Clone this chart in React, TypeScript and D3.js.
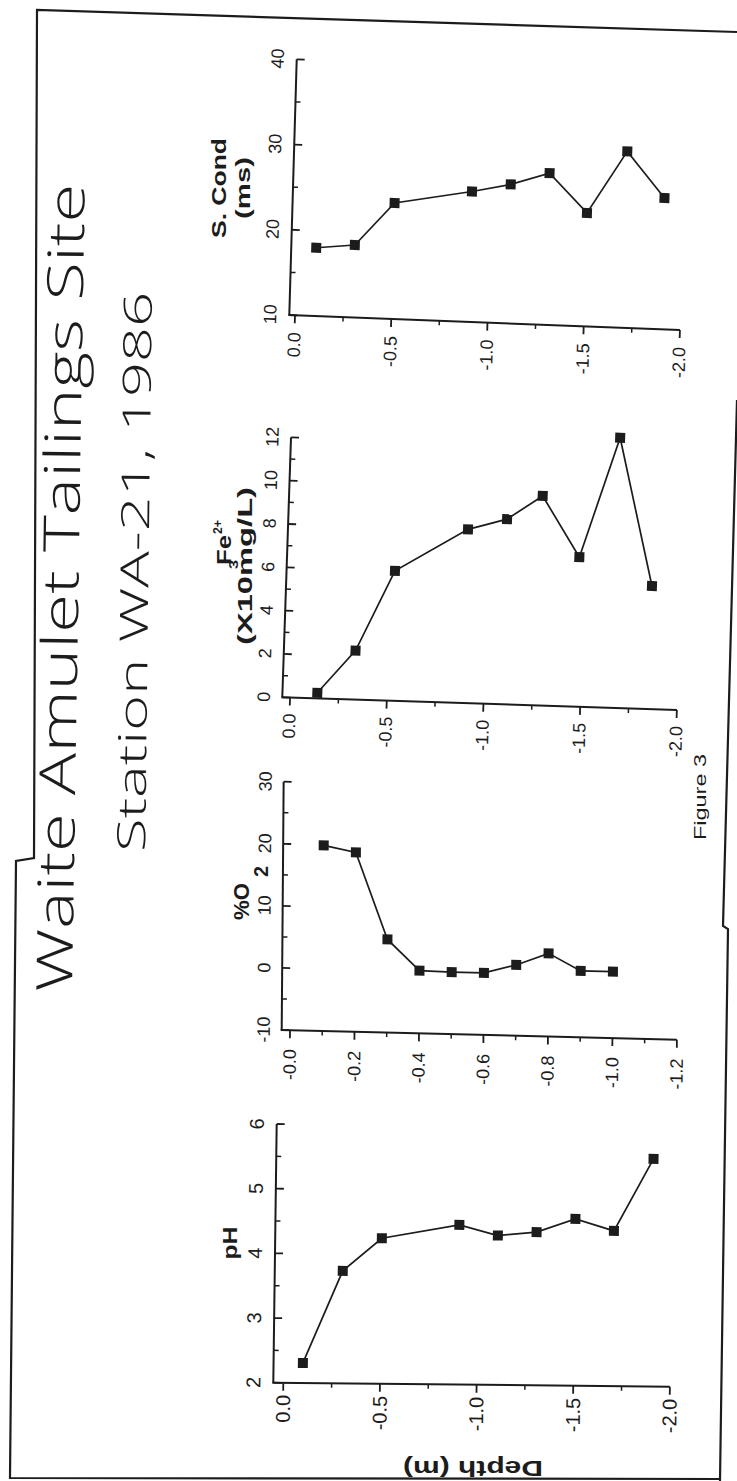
import React from "react";
import * as d3 from "d3";

// ---------- data ----------
const scDepth = [-0.1, -0.3, -0.5, -0.9, -1.1, -1.3, -1.5, -1.7, -1.9];
const scValue = [18.0, 18.5, 23.6, 25.3, 26.3, 27.8, 23.3, 30.7, 25.4];
const scTicks = [10, 20, 30, 40];

const feDepth = [-0.14, -0.33, -0.52, -0.89, -1.09, -1.27, -1.47, -1.66, -1.85];
const feValue = [0.26, 2.26, 6.0, 8.02, 8.55, 9.67, 6.9, 12.47, 5.68];
const feTicks = [0, 2, 4, 6, 8, 10, 12];

const o2Depth = [-0.1, -0.2, -0.3, -0.4, -0.5, -0.6, -0.7, -0.8, -0.9, -1.0];
const o2Value = [19.9, 18.9, 5.0, 0.1, 0.0, 0.0, 1.4, 3.4, 0.7, 0.7];
const o2Ticks = [-10, 0, 10, 20, 30];

const phDepth = [-0.1, -0.3, -0.5, -0.9, -1.1, -1.3, -1.5, -1.7, -1.9];
const phValue = [2.31, 3.74, 4.25, 4.47, 4.31, 4.37, 4.58, 4.4, 5.52];
const phTicks = [2, 3, 4, 5, 6];

const depthTicks = [0, -0.5, -1.0, -1.5, -2.0];
const depthTickLabels = ["0.0", "-0.5", "-1.0", "-1.5", "-2.0"];
const o2DepthTicks = [0, -0.2, -0.4, -0.6, -0.8, -1.0, -1.2];
const o2DepthTickLabels = ["-0.0", "-0.2", "-0.4", "-0.6", "-0.8", "-1.0", "-1.2"];

// ---------- layout (scan geometry of each panel) ----------
const layout = {
  sc: { cx: 289.3, cy: 315, alpha: 2.2, beta: 1.66, u0: 5.7, uLen: 385.2, vLen: 255.8, gap: 17, vOff: -19, fs: 18 },
  fe: { cx: 282.3, cy: 697.3, alpha: 1.84, beta: 1.92, u0: 7.76, uLen: 387, vLen: 260.1, gap: 16, vOff: -18.5, fs: 18 },
  o2: { cx: 281.7, cy: 1030, alpha: 1.4, beta: 0.45, u0: 8.3, uLen: 387, vLen: 248.3, gap: 19, vOff: -18, fs: 18 },
  ph: { cx: 273.3, cy: 1382.7, alpha: 0.58, beta: 0.75, u0: 10, uLen: 386.6, vLen: 258.7, gap: 12, vOff: -20, fs: 20 },
};

const INK = "#1c1c1c";
const TICK_FONT = "'Liberation Sans', Arial, sans-serif";
const LABEL_FONT = "'Liberation Sans', Arial, sans-serif";

type L = typeof layout.sc;

function Panel(props: {
  depth: number[];
  value: number[];
  vTicks: number[];
  dTicks: number[];
  dLabels: string[];
  L: L;
}) {
  const { depth, value, vTicks, dTicks, dLabels, L } = props;
  const a = (L.alpha * Math.PI) / 180;
  const b = (L.beta * Math.PI) / 180;
  const m = `matrix(${Math.cos(a)},${Math.sin(a)},${-Math.sin(b)},${Math.cos(b)},${L.cx},${L.cy})`;
  const dDomain = [dTicks[0], dTicks[dTicks.length - 1]];
  const x = d3.scaleLinear().domain(dDomain).range([L.u0, L.u0 + L.uLen]);
  const y = d3.scaleLinear().domain([vTicks[0], vTicks[vTicks.length - 1]]).range([0, -L.vLen]);
  const vMinor = vTicks.slice(1).map((t, i) => (t + vTicks[i]) / 2);
  const dMinor = dTicks.slice(1).map((t, i) => (t + dTicks[i]) / 2);
  const pts: [number, number][] = depth.map((d, i) => [d, value[i]]);
  const line = d3
    .line<[number, number]>()
    .x((d) => x(d[0]))
    .y((d) => y(d[1]));
  const xEnd = x(dDomain[1]);
  return (
    <g transform={m}>
      <line x1={0} y1={0} x2={0} y2={-L.vLen} stroke={INK} strokeWidth={2} />
      <line x1={-1} y1={0} x2={xEnd} y2={0} stroke={INK} strokeWidth={2} />
      {vTicks.map((t) => (
        <line key={"vt" + t} x1={0} x2={8} y1={y(t)} y2={y(t)} stroke={INK} strokeWidth={1.8} />
      ))}
      {vMinor.map((t) => (
        <line key={"vm" + t} x1={0} x2={5} y1={y(t)} y2={y(t)} stroke={INK} strokeWidth={1.5} />
      ))}
      {dTicks.map((t) => (
        <line key={"dt" + t} x1={x(t)} x2={x(t)} y1={0} y2={8} stroke={INK} strokeWidth={1.8} />
      ))}
      {dMinor.map((t) => (
        <line key={"dm" + t} x1={x(t)} x2={x(t)} y1={0} y2={4.5} stroke={INK} strokeWidth={1.5} />
      ))}
      {vTicks.map((t) => (
        <text
          key={"vl" + t}
          x={L.vOff}
          y={y(t)}
          transform={`rotate(-90,${L.vOff},${y(t)})`}
          textAnchor="middle"
          dominantBaseline="central"
          fontFamily={TICK_FONT}
          fontSize={L.fs}
          fill={INK}
        >
          {String(t)}
        </text>
      ))}
      {dTicks.map((t, i) => (
        <text
          key={"dl" + t}
          x={x(t)}
          y={L.gap}
          transform={`rotate(-90,${x(t)},${L.gap})`}
          textAnchor="end"
          dominantBaseline="central"
          fontFamily={TICK_FONT}
          fontSize={L.fs}
          fill={INK}
        >
          {dLabels[i]}
        </text>
      ))}
      <path d={line(pts) || ""} fill="none" stroke={INK} strokeWidth={1.7} />
      {pts.map((p, i) => (
        <rect key={"p" + i} x={x(p[0]) - 5} y={y(p[1]) - 5} width={10} height={10} fill={INK} />
      ))}
    </g>
  );
}

function RotText(props: {
  x: number;
  y: number;
  angle?: number;
  size: number;
  anchor?: string;
  weight?: string | number;
  family?: string;
  len?: number;
  children: React.ReactNode;
}) {
  const { x, y, angle = -90, size, anchor = "middle", weight = "bold", family = LABEL_FONT, len } = props;
  return (
    <text
      x={x}
      y={y}
      transform={`rotate(${angle},${x},${y})`}
      textAnchor={anchor}
      fontFamily={family}
      fontWeight={weight}
      fontSize={size}
      fill={INK}
      textLength={len}
      lengthAdjust={len ? "spacingAndGlyphs" : undefined}
    >
      {props.children}
    </text>
  );
}

export default function App() {
  return (
    <svg width={737} height={1481} style={{ display: "block", position: "absolute", left: 0, top: 0, background: "#fff" }}>
      <rect x={0} y={0} width={737} height={1481} fill="#fff" />
      {/* frame */}
      <path d="M 737,32 L 37,10 L 34,858 L 16,861 L 10,1478 L 720,1479" fill="none" stroke={INK} strokeWidth={2.2} />
      <path d="M 720,1481 L 728,929 L 723,926 L 737,400" fill="none" stroke={INK} strokeWidth={2.2} />

      {/* titles */}
      <RotText x={72} y={992} angle={-89.1} size={50} weight={300} family="'Open Sans', Lato, 'DejaVu Sans', sans-serif" anchor="start" len={808}>
        Waite Amulet Tailings Site
      </RotText>
      <RotText x={145} y={852} angle={-89.3} size={39} weight={300} family="'Open Sans', Lato, 'DejaVu Sans', sans-serif" anchor="start" len={560}>
        Station WA-21, 1986
      </RotText>

      {/* panel labels */}
      <RotText x={226} y={188} size={21} len={100}>S. Cond</RotText>
      <RotText x={250} y={188} size={21} len={62}>(ms)</RotText>

      <RotText x={231} y={565} size={21} anchor="start" len={30}>Fe</RotText>
      <RotText x={222} y={534} size={13} anchor="start" len={14}>2+</RotText>
      <RotText x={252} y={645} size={21} anchor="start" len={158}>(X10mg/L)</RotText>
      <RotText x={238} y={569} size={13} anchor="start" len={9}>3</RotText>

      <RotText x={249} y={920} size={22} anchor="start" len={37}>%O</RotText>
      <RotText x={268} y={877} size={20} anchor="start" len={11}>2</RotText>

      <RotText x={237} y={1243} size={21} len={33}>pH</RotText>

      <RotText x={473} y={1461} angle={180} size={22} len={140}>Depth (m)</RotText>

      <RotText x={706} y={797} size={16} weight="normal" len={86}>Figure 3</RotText>

      {/* panels */}
      <Panel depth={scDepth} value={scValue} vTicks={scTicks} dTicks={depthTicks} dLabels={depthTickLabels} L={layout.sc} />
      <Panel depth={feDepth} value={feValue} vTicks={feTicks} dTicks={depthTicks} dLabels={depthTickLabels} L={layout.fe} />
      <Panel depth={o2Depth} value={o2Value} vTicks={o2Ticks} dTicks={o2DepthTicks} dLabels={o2DepthTickLabels} L={layout.o2} />
      <Panel depth={phDepth} value={phValue} vTicks={phTicks} dTicks={depthTicks} dLabels={depthTickLabels} L={layout.ph} />
    </svg>
  );
}
